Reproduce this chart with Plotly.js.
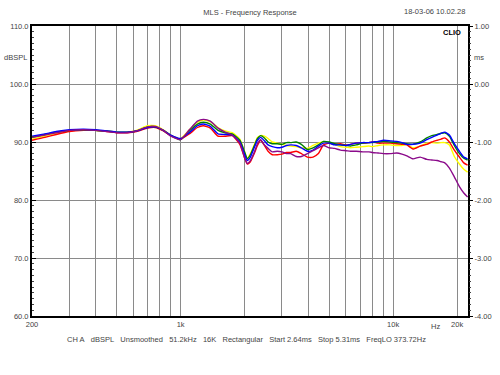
<!DOCTYPE html>
<html>
<head>
<meta charset="utf-8">
<script src="https://cdn.plot.ly/plotly-3.0.1.min.js"></script>
<style>html,body{margin:0;padding:0;background:#fff;}#chart{width:500px;height:375px;}</style>
</head>
<body>
<div id="chart"></div>
<script>
// Frequencies (Hz)
const freq = [200,230,260,300,350,400,450,500,560,620,700,760,830,900,1000,1100,1200,1280,1380,1500,1620,1750,1900,2000,2060,2130,2220,2300,2380,2480,2580,2700,2850,3000,3150,3300,3500,3700,3950,4200,4450,4700,5000,5300,5650,6000,6300,6700,7200,7700,8000,8500,9000,9700,10400,11000,11600,12400,13400,14400,15200,16100,16800,17500,18400,19400,20500,21500,22400];

const blue   = [91.0,91.4,91.8,92.1,92.2,92.1,91.9,91.7,91.7,91.9,92.5,92.6,92.0,91.2,90.6,91.6,92.8,93.1,92.7,91.4,91.3,91.2,90.0,87.9,86.8,87.4,89.0,90.3,90.8,90.2,89.5,89.2,89.0,89.1,89.4,89.5,89.4,89.0,88.4,88.6,89.3,89.8,89.8,89.5,89.5,89.4,89.6,89.8,89.9,89.9,90.0,90.1,90.3,90.2,90.1,89.9,89.6,89.6,89.8,90.4,90.8,91.2,91.5,91.7,91.2,89.7,88.4,87.4,87.1];
const green  = [90.8,91.3,91.7,92.0,92.1,92.0,91.9,91.7,91.7,91.9,92.6,92.6,92.0,91.1,90.4,91.9,93.1,93.4,93.1,92.0,91.6,91.4,90.3,88.3,87.1,87.8,89.3,90.6,91.1,90.7,90.0,89.7,89.7,89.6,89.9,89.9,90.0,89.6,88.7,89.0,89.5,90.1,90.0,89.7,89.5,89.4,89.3,89.5,89.8,89.9,89.9,90.0,90.1,90.0,89.9,89.8,89.7,89.6,90.0,90.7,91.1,91.3,91.5,91.6,91.0,89.4,88.0,87.2,86.9];
const yellow = [90.5,91.0,91.5,91.9,92.1,92.0,91.9,91.7,91.7,92.0,92.8,92.8,92.1,91.2,90.6,92.1,93.4,93.8,93.5,92.5,91.9,91.6,90.5,88.3,87.2,88.0,89.5,90.8,91.1,91.0,90.6,90.0,89.8,89.6,89.4,89.3,89.2,89.0,88.9,89.4,89.8,90.0,89.8,89.6,89.2,89.1,89.0,89.1,89.2,89.3,89.2,89.4,89.5,89.5,89.4,89.4,89.6,89.0,89.3,89.8,89.9,89.8,89.9,89.9,89.5,87.5,86.2,85.3,84.8];
const red    = [90.3,90.8,91.3,91.8,92.0,92.0,91.8,91.6,91.6,91.8,92.4,92.5,91.9,91.1,90.5,91.4,92.5,92.8,92.4,91.0,91.0,91.1,89.6,87.3,86.2,86.6,88.0,89.4,90.3,89.4,88.4,87.8,87.8,87.9,88.2,88.2,88.4,88.0,87.4,87.4,88.0,89.5,89.8,89.6,89.7,89.5,89.6,89.8,89.8,89.9,90.0,89.8,89.8,89.8,89.7,89.6,89.5,88.8,89.3,89.6,90.0,90.3,90.5,90.7,90.0,88.6,87.4,86.4,86.0];
const purple = [90.8,91.2,91.6,92.0,92.1,92.0,91.8,91.6,91.6,91.9,92.6,92.7,92.0,91.0,90.4,92.1,93.6,93.9,93.6,92.4,91.7,91.2,89.8,87.3,86.3,86.8,88.2,89.7,90.4,89.5,88.9,88.3,88.4,88.3,88.0,88.0,87.5,87.5,88.0,88.5,89.0,89.4,89.0,88.9,88.6,88.5,88.4,88.4,88.3,88.3,88.2,88.1,88.0,88.0,88.1,87.9,87.6,87.1,87.4,87.0,86.9,86.8,86.6,86.4,85.5,84.0,82.3,81.2,80.5];

const seriesNames  = ['Yellow','Red','Green','Blue','Purple'];
const seriesData   = [yellow, red, green, blue, purple];
const seriesColors = ['#ffff00','#ff0000','#008000','#0000ff','#8b0a8b'];

const gridTicks = [200,300,400,500,600,700,800,900,1000,2000,3000,4000,5000,6000,7000,8000,9000,10000,20000];
const gridText  = ['200','','','','','','','','1k','','','','','','','','','10k','20k'];
const leftTicks = [60,70,80,90,100,110];
const leftText  = ['60.0','70.0','80.0','90.0','100.0','110.0'];
const rightTicks = [-4,-3,-2,-1,0,1];
const rightText  = ['-4.00','-3.00','-2.00','-1.00','0.00','1.00'];

const traces = seriesData.map((d,i)=>({
  x: freq, y: d, type:'scatter', mode:'lines', name: seriesNames[i],
  line:{color: seriesColors[i], width:1.4, shape:'spline', smoothing:0.5}, hoverinfo:'skip'
}));
// dummy trace for right axis
traces.push({x:[200], y:[0], yaxis:'y2', mode:'markers', marker:{opacity:0}, showlegend:false, hoverinfo:'skip'});

const fnt = {family:'Liberation Sans, Arial, sans-serif', size:7.5, color:'#444'};
const nb = '\u00A0';
const footer = ['CH A','dBSPL','Unsmoothed','51.2kHz','16K','Rectangular','Start 2.64ms','Stop 5.31ms','FreqLO 373.72Hz'].join(nb+nb+nb);

const layout = {
  width:500, height:375,
  margin:{l:32, r:32, t:26, b:59},
  paper_bgcolor:'#fff', plot_bgcolor:'#fff',
  showlegend:false,
  font: fnt,
  title:{text:'MLS - Frequency Response', font:fnt, x:0.5, xanchor:'center', y:1-12/375, yanchor:'middle'},
  xaxis:{type:'log', range:[Math.log10(200), Math.log10(22500)],
    tickmode:'array', tickvals:gridTicks, ticktext:gridText, ticks:'', tickfont:fnt,
    showgrid:true, gridcolor:'#8a8a8a', gridwidth:1,
    showline:true, linecolor:'#000', linewidth:2, mirror:true, zeroline:false},
  yaxis:{range:[60,110], tickmode:'array', tickvals:leftTicks, ticktext:leftText,
    ticks:'inside', ticklen:4, tickcolor:'#000', tickfont:fnt,
    minor:{dtick:1, ticks:'inside', ticklen:2, tickcolor:'#444', showgrid:false},
    showgrid:true, gridcolor:'#8a8a8a', gridwidth:1,
    showline:true, linecolor:'#000', linewidth:2, mirror:true, zeroline:false},
  yaxis2:{range:[-4,1], overlaying:'y', side:'right', tickmode:'array', tickvals:rightTicks, ticktext:rightText,
    ticks:'outside', ticklen:4, tickcolor:'#000', tickfont:fnt,
    minor:{dtick:0.1, ticks:'outside', ticklen:2, tickcolor:'#444', showgrid:false},
    showgrid:false, showline:false, zeroline:false},
  annotations:[
    {text:'18-03-06 10.02.28', xref:'paper', yref:'paper', x:(434-32)/436, y:1+(26-12)/290, xanchor:'center', yanchor:'middle', showarrow:false, font:fnt},
    {text:'dBSPL', xref:'paper', yref:'y', x:-3/436, y:104.6, xanchor:'right', yanchor:'middle', showarrow:false, font:fnt},
    {text:'ms', xref:'paper', yref:'y', x:1+4/436, y:104.6, xanchor:'left', yanchor:'middle', showarrow:false, font:fnt},
    {text:'<b>CLIO</b>', xref:'paper', yref:'paper', x:(463-32)/436, y:1-(32-26)/290, xanchor:'right', yanchor:'middle', showarrow:false, font:{family:'Liberation Sans, Arial, sans-serif', size:7.5, color:'#000'}},
    {text:'Hz', xref:'paper', yref:'paper', x:(435-32)/436, y:-(326-316)/290, xanchor:'center', yanchor:'middle', showarrow:false, font:fnt},
    {text:footer, xref:'paper', yref:'paper', x:(246-32)/436, y:-(339-316)/290, xanchor:'center', yanchor:'middle', showarrow:false, font:fnt}
  ]
};

Plotly.newPlot('chart', traces, layout, {staticPlot:true, displayModeBar:false});
</script>
</body>
</html>
